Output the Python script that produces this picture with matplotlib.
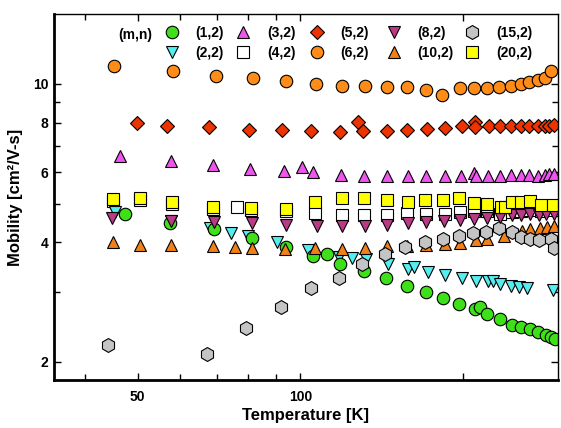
import matplotlib.pyplot as plt
from matplotlib.legend import Legend
from matplotlib.ticker import FixedLocator, NullFormatter, FixedFormatter

plt.rcParams['font.family'] = ['Liberation Sans', 'DejaVu Sans']
plt.rcParams['font.weight'] = 'bold'

# (m,n) = (1,2)
T1 = [47.3, 57.5, 69.2, 81.5, 94.1, 105.5, 112.3, 118.5, 131.3, 144, 157.6, 170.6, 183.7,
      197, 210.5, 215.4, 221.8, 234.7, 246.6, 256.7, 265.9, 275.7, 284.6, 290.7, 296.1]
mu1 = [4.71, 4.47, 4.31, 4.10, 3.89, 3.70, 3.74, 3.53, 3.39, 3.25, 3.11, 3.00, 2.89,
       2.80, 2.72, 2.75, 2.64, 2.56, 2.48, 2.45, 2.42, 2.38, 2.33, 2.31, 2.28]
# (2,2)
T2 = [45.3, 57.7, 68.0, 74.3, 79.9, 90.7, 103.5, 118.0, 124.9, 132.3, 145.1, 158.6, 162.4,
      172.3, 185.6, 199.5, 211.1, 222.8, 227.1, 234.3, 245.3, 254.1, 263.1, 293.7]
mu2 = [4.77, 4.52, 4.35, 4.22, 4.14, 4.00, 3.83, 3.67, 3.65, 3.63, 3.53, 3.43, 3.47,
       3.36, 3.30, 3.25, 3.20, 3.19, 3.19, 3.14, 3.10, 3.08, 3.07, 3.04]
# (3,2)
T3 = [46.3, 57.7, 68.9, 80.8, 93.1, 100.6, 105.7, 119.0, 131.3, 144.6, 158.1, 171.1, 185,
      198, 210, 211.5, 222.7, 234.7, 246, 256.2, 265.5, 275, 284.3, 289, 294.4]
mu3 = [6.58, 6.41, 6.25, 6.11, 6.03, 6.17, 6.00, 5.91, 5.88, 5.88, 5.86, 5.86, 5.86,
       5.88, 5.97, 5.87, 5.86, 5.88, 5.89, 5.89, 5.89, 5.88, 5.89, 5.94, 5.94]
# (4,2)
T4 = [45, 50.5, 58, 69, 76.2, 81, 94, 106.5, 119.4, 131.3, 144.6, 157.8, 171.1, 185.3,
      197.6, 209.6, 221.8, 234.7, 246.6, 256, 266, 279, 294]
mu4 = [5.08, 5.10, 5.00, 4.86, 4.89, 4.82, 4.78, 4.74, 4.68, 4.68, 4.68, 4.74, 4.71, 4.71,
       4.76, 4.80, 4.80, 4.72, 4.76, 4.80, 4.82, 4.80, 4.82]
# (5,2)
T5 = [49.9, 56.7, 67.9, 80.3, 92.5, 104.9, 118.4, 128.1, 130.9, 144.9, 157.8, 171.8, 185.2,
      198.9, 210.2, 211, 223.4, 234.7, 246, 256.7, 265.5, 275, 284.3, 288.3, 294.4]
mu5 = [7.98, 7.85, 7.78, 7.67, 7.66, 7.62, 7.59, 8.01, 7.63, 7.63, 7.66, 7.70, 7.75,
       7.83, 8.04, 7.78, 7.83, 7.85, 7.85, 7.85, 7.85, 7.85, 7.85, 7.83, 7.90]
# (6,2)
T6 = [45.2, 58.2, 69.7, 81.9, 94.1, 106.9, 119.6, 131.6, 144.5, 157.8, 170.6, 183.2, 197.6,
      209.6, 221.6, 233.7, 245.9, 255.9, 265.6, 275.1, 284.2, 291.7]
mu6 = [11.1, 10.8, 10.5, 10.33, 10.15, 10.0, 9.9, 9.87, 9.85, 9.8, 9.67, 9.4, 9.75,
       9.79, 9.77, 9.85, 9.9, 10.0, 10.1, 10.25, 10.38, 10.8]
# (8,2)
T8 = [44.9, 57.7, 69.1, 81.3, 94.1, 107.2, 119.7, 131.8, 145, 158.1, 171.1, 184.7, 197.6,
      209.6, 221.8, 234.7, 246.6, 256.2, 265.9, 276.2, 285, 294.4]
mu8 = [4.60, 4.52, 4.49, 4.46, 4.42, 4.39, 4.40, 4.39, 4.43, 4.47, 4.49, 4.51, 4.56,
       4.58, 4.60, 4.62, 4.68, 4.68, 4.71, 4.68, 4.71, 4.71]
# (10,2)
T10 = [45, 50.4, 57.7, 68.9, 75.7, 81.3, 93.8, 106.6, 119.3, 131.7, 144.5, 157.8, 170.6,
       185.3, 197.6, 211.2, 221.8, 238, 256.9, 266.2, 277.9, 286.1, 294.4]
mu10 = [4.00, 3.94, 3.94, 3.91, 3.89, 3.87, 3.85, 3.86, 3.85, 3.86, 3.92, 3.92, 3.94,
        3.95, 3.98, 4.04, 4.08, 4.14, 4.27, 4.32, 4.35, 4.36, 4.40]
# (15,2)
T15 = [44.1, 67.1, 79.4, 92.1, 104.9, 118, 130.3, 143.5, 156.6, 170.4, 183.4, 196.9, 209.1,
       221, 233.5, 246.8, 256.7, 266.7, 276.2, 291.3, 295]
mu15 = [2.20, 2.09, 2.43, 2.75, 3.07, 3.25, 3.52, 3.73, 3.89, 4.01, 4.08, 4.15, 4.21,
        4.24, 4.33, 4.25, 4.11, 4.08, 4.04, 4.08, 3.87]
# (20,2)
T20 = [45, 50.5, 58, 69, 81, 94, 106.5, 119.5, 131, 145, 158, 170.5, 184, 197, 210, 222,
       235, 239, 246.5, 256, 266, 279, 294]
mu20 = [5.14, 5.16, 5.06, 4.91, 4.87, 4.85, 5.04, 5.16, 5.16, 5.11, 5.06, 5.11, 5.12,
        5.16, 5.02, 4.99, 4.90, 4.90, 5.04, 5.04, 5.09, 4.96, 4.96]

fig = plt.figure(figsize=(5.61, 4.28), dpi=100)
ax = fig.add_axes([54 / 561, 1 - 380 / 428, 504 / 561, 366 / 428])

kw = dict(linestyle='none', markeredgecolor='black', markeredgewidth=0.8)
# drawing order picked so overlaps look like the original
h4, = ax.plot(T4, mu4, 's', ms=8, mfc='white', label='(4,2)', **kw)
h2, = ax.plot(T2, mu2, 'v', ms=9, mfc='#55eef0', label='(2,2)', **kw)
h1, = ax.plot(T1, mu1, 'o', ms=9, mfc='#3ee01a', label='(1,2)', **kw)
h10, = ax.plot(T10, mu10, '^', ms=9, mfc='#f08018', label='(10,2)', **kw)
h15, = ax.plot(T15, mu15, 'h', ms=10, mfc='#c4c4c4', label='(15,2)', **kw)
h8, = ax.plot(T8, mu8, 'v', ms=9, mfc='#bb3a88', label='(8,2)', **kw)
h20, = ax.plot(T20, mu20, 's', ms=8, mfc='#ffff00', label='(20,2)', **kw)
h3, = ax.plot(T3, mu3, '^', ms=9, mfc='#ee55ee', label='(3,2)', **kw)
h5, = ax.plot(T5, mu5, 'D', ms=7, mfc='#ee3300', label='(5,2)', **kw)
h6, = ax.plot(T6, mu6, 'o', ms=9, mfc='#ff8c18', label='(6,2)', **kw)

ax.set_xscale('log')
ax.set_yscale('log')
ax.set_xlim(35, 300)
ax.set_ylim(1.8, 15)

ax.xaxis.set_major_locator(FixedLocator([50, 100, 200]))
ax.xaxis.set_major_formatter(FixedFormatter(['50', '100', '']))
ax.xaxis.set_minor_locator(FixedLocator([40, 60, 70, 80, 90]))
ax.xaxis.set_minor_formatter(NullFormatter())
ax.yaxis.set_major_locator(FixedLocator([2, 4, 6, 8, 10]))
ax.yaxis.set_major_formatter(FixedFormatter(['2', '4', '6', '8', '10']))
ax.yaxis.set_minor_locator(FixedLocator([3, 5, 7, 9]))
ax.yaxis.set_minor_formatter(NullFormatter())

ax.tick_params(which='both', direction='in', top=True, right=True, width=1, labelsize=10)
ax.tick_params(which='major', length=5)
ax.tick_params(which='minor', length=4)
ax.tick_params(axis='x', pad=7)
ax.tick_params(axis='y', pad=4)

for s in ['left', 'bottom']:
    ax.spines[s].set_linewidth(2)
for s in ['top', 'right']:
    ax.spines[s].set_linewidth(1)

ax.set_xlabel('Temperature [K]', fontsize=12, fontweight='bold', labelpad=3)
ax.set_ylabel('Mobility [cm²/V-s]', fontsize=12, fontweight='bold', labelpad=7)

ax.text(0.127, 0.943, '(m,n)', transform=ax.transAxes, fontsize=10,
        fontweight='bold', va='center', ha='left')

# one small legend per column, so each column sits where it does in the original
columns = [(h1, h2), (h3, h4), (h5, h6), (h8, h10), (h15, h20)]
col_x = [171.7, 243.3, 316.6, 393.6, 472.3]
for pair, cx in zip(columns, col_x):
    leg = Legend(ax, list(pair), [p.get_label() for p in pair], loc='upper left',
                 bbox_to_anchor=((cx - 8.3 - 54) / 504, 0.968),
                 frameon=False, fontsize=10, handlelength=1.2, handletextpad=1.1,
                 labelspacing=0.45, borderpad=0, borderaxespad=0)
    ax.add_artist(leg)

fig.savefig('out.png', dpi=100)
